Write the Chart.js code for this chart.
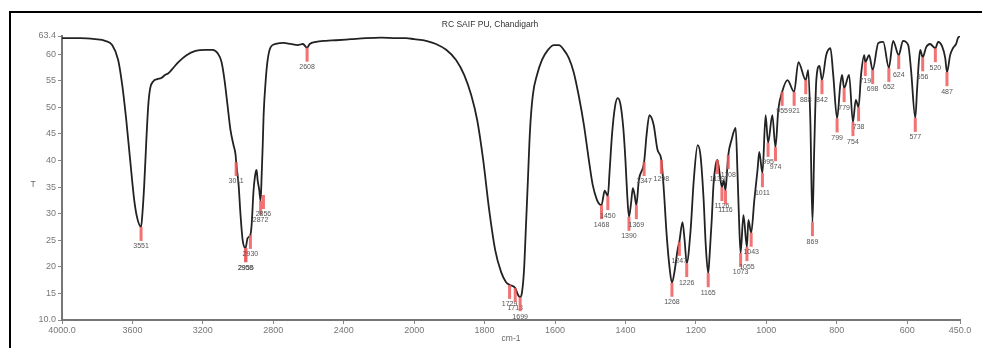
<!DOCTYPE html>
<html>
<head>
<meta charset="utf-8">
<script src="https://cdn.jsdelivr.net/npm/chart.js@4/dist/chart.umd.min.js"></script>
<style>
  html, body { margin: 0; padding: 0; background: #fff; }
  #wrap { width: 982px; height: 348px; position: relative; }
</style>
</head>
<body>
<div id="wrap"><canvas id="chart"></canvas></div>
<script>
// spectrum, wavenumber (cm-1) and transmittance
var wavenumbers = [4000,3897,3812,3755,3715,3681,3658,3635,3613,3590,3573,3551,3544,3533,3521,3510,3499,3481,3459,3436,3413,3396,3373,3339,3293,3242,3185,3145,3117,3094,3077,3060,3043,3026,3014,3011,2997,2986,2974,2958,2946,2930,2923,2912,2900,2895,2889,2880,2872,2866,2860,2855,2843,2832,2815,2786,2741,2701,2661,2632,2608,2593,2558,2501,2444,2359,2274,2188,2103,2046,2000,1966,1938,1909,1881,1858,1838,1821,1804,1787,1770,1753,1739,1729,1713,1705,1699,1694,1688,1683,1677,1671,1663,1651,1637,1620,1603,1589,1575,1561,1547,1533,1518,1504,1493,1481,1474,1468,1459,1450,1445,1438,1430,1422,1414,1406,1400,1395,1390,1384,1379,1374,1369,1362,1347,1340,1332,1320,1309,1298,1291,1283,1274,1268,1260,1252,1247,1238,1232,1226,1215,1206,1195,1187,1178,1172,1165,1161,1155,1150,1144,1139,1130,1126,1121,1116,1112,1108,1099,1087,1082,1077,1073,1065,1055,1051,1043,1034,1025,1020,1011,1002,995,983,974,966,955,940,921,909,888,881,875,869,864,858,849,842,830,818,810,799,790,785,779,765,754,746,738,731,722,719,708,698,682,668,652,640,624,612,597,589,577,572,567,563,556,546,535,520,512,501,492,487,478,470,461,456,450];
var transmittance = [63.0,63.0,62.8,62.5,61.7,58.9,54.2,47.6,40.1,32.6,29.2,27.5,29.7,35.4,43.8,50.4,53.6,54.9,55.3,55.5,56.1,56.4,57.2,58.5,59.8,60.6,60.8,60.8,60.2,58.5,55.1,50.4,45.7,42.9,41.0,39.7,35.4,29.7,25.0,23.5,25.4,26.0,27.9,34.4,37.8,38.2,36.3,34.5,32.4,37.3,42.9,48.5,55.1,58.9,61.3,61.9,62.1,61.9,61.7,61.9,61.2,61.9,62.3,62.5,62.6,62.8,63.0,63.1,63.0,63.0,62.8,62.5,61.9,60.8,58.9,56.1,52.3,47.6,40.1,30.7,23.2,19.0,17.1,16.6,16.0,14.7,14.3,15.1,19.4,26.9,36.3,45.7,52.3,56.1,58.9,60.8,61.7,61.7,60.8,59.3,56.6,52.3,46.7,40.1,35.4,32.6,31.8,31.6,34.3,33.3,38.0,45.0,50.0,51.7,50.5,46.0,40.0,33.5,29.4,32.0,34.8,33.5,31.6,36.3,39.7,44.8,48.5,46.7,42.0,40.1,34.4,26.0,19.4,17.0,19.4,23.2,24.7,28.4,25.0,20.7,26.9,36.3,42.9,41.0,32.6,24.1,18.8,22.2,28.8,35.4,39.1,40.1,36.3,35.0,36.3,34.4,37.5,41.0,43.8,46.1,38.0,28.0,22.6,29.7,23.7,28.8,26.4,32.6,38.2,41.6,37.6,48.5,43.3,48.5,42.5,49.5,52.9,55.1,52.9,58.5,55.1,57.0,47.6,28.4,42.0,55.1,57.8,55.1,59.8,61.1,56.1,47.9,54.2,56.1,53.6,56.1,47.2,51.4,50.0,56.1,59.8,58.5,59.8,57.0,62.1,62.3,57.4,62.5,59.8,62.5,61.7,57.0,48.0,53.2,58.5,60.8,59.4,61.3,61.9,61.1,62.3,61.5,59.3,56.6,59.8,61.1,61.9,63.0,63.4];

// peak picks (red markers)
var peakLabels = ['3551','3011','2958','2955','2930','2872','2856','2608','1729','1713','1699','1468','1450','1390','1369','1347','1298','1268','1247','1226','1165','1139','1126','1116','1108','1073','1055','1043','1011','995','974','955','921','888','869','842','799','779','754','738','719','698','652','624','577','556','520','487'];
var peakWn = [3551,3011,2958,2955,2930,2872,2856,2608,1729,1713,1699,1468,1450,1390,1369,1347,1298,1268,1247,1226,1165,1139,1126,1116,1108,1073,1055,1043,1011,995,974,955,921,888,869,842,799,779,754,738,719,698,652,624,577,556,520,487];
var peakT = [27.5,39.7,23.5,23.5,26.0,32.4,33.5,61.2,16.6,16.0,14.3,31.6,33.3,29.4,31.6,39.7,40.1,17.0,24.7,20.7,18.8,40.1,35.0,34.4,41.0,22.6,23.7,26.4,37.6,43.3,42.5,52.9,52.9,55.1,28.4,55.1,47.9,53.6,47.2,50.0,58.5,57.0,57.4,59.8,48.0,59.4,61.1,56.6];

var xTickValues = [4000,3600,3200,2800,2400,2000,1800,1600,1400,1200,1000,800,600,450];
var xTickLabels = ['4000.0','3600','3200','2800','2400','2000','1800','1600','1400','1200','1000','800','600','450.0'];
var yTickValues = [63.4,60,55,50,45,40,35,30,25,20,15,10];
var yTickLabels = ['63.4','60','55','50','45','40','35','30','25','20','15','10.0'];

// the instrument plot doubles the scale below 2000 cm-1
function toU(w){
    if (w >= 2000) return 4000 - w;
    return 2000 + 2*(2000 - w);
}

var points = [];
for (let i=0; i<wavenumbers.length; i++){
    points.push({x: toU(wavenumbers[i]), y: transmittance[i]});
}

var font = '"Liberation Sans", Arial, sans-serif';

var decor = {
    id: 'decor',
    afterDatasetsDraw(chart){
        let c = chart.ctx;
        let xs = chart.scales.x, ys = chart.scales.y;
        c.save();
        // peak markers
        c.font = '7px ' + font;
        c.textAlign = 'center';
        c.textBaseline = 'top';
        for (let i=0; i<peakWn.length; i++){
            let px = xs.getPixelForValue(toU(peakWn[i]));
            let py = ys.getPixelForValue(peakT[i]);
            c.fillStyle = 'rgba(238,90,90,0.85)';
            c.fillRect(px-1.5, py, 3, 14);
            c.fillStyle = '#555';
            c.fillText(peakLabels[i], px, py+16);
        }
        c.restore();
    },
    afterDraw(chart){
        let c = chart.ctx;
        c.save();
        // frame
        c.fillStyle = '#000';
        c.fillRect(9, 11, 982-9, 2);
        c.fillRect(9, 11, 2, 348-11);
        // title and axis names
        c.fillStyle = '#333';
        c.font = '8.5px ' + font;
        c.textAlign = 'center';
        c.textBaseline = 'middle';
        c.fillText('RC SAIF PU, Chandigarh', 490, 25);
        c.fillStyle = '#666';
        c.font = '8.5px ' + font;
        c.fillText('T', 33, 185);
        c.fillText('cm-1', 511, 339);
        c.restore();
    }
};

var ctx = document.getElementById('chart');

var chart = new Chart(ctx, {
    type: 'scatter',
    data: {
        datasets: [{
            data: points,
            showLine: true,
            borderColor: '#222',
            borderWidth: 1.8,
            pointRadius: 0,
            cubicInterpolationMode: 'monotone'
        }]
    },
    options: {
        responsive: true,
        maintainAspectRatio: false,
        animation: false,
        layout: {padding: {left: 0, right: 22, top: 36, bottom: 0}},
        plugins: {legend: {display: false}, tooltip: {enabled: false}},
        scales: {
            x: {
                type: 'linear',
                min: 0,
                max: toU(450),
                afterFit: function(s){ s.height = 28; },
                afterBuildTicks: function(s){
                    s.ticks = xTickValues.map(v => ({value: toU(v)}));
                },
                ticks: {
                    autoSkip: false,
                    maxRotation: 0,
                    padding: 1,
                    color: '#777',
                    font: {family: font, size: 9},
                    callback: function(v, i){ return xTickLabels[i]; }
                },
                grid: {drawOnChartArea: false, tickLength: 4, color: '#888'},
                border: {color: '#777', width: 2}
            },
            y: {
                min: 10,
                max: 63.4,
                afterFit: function(s){ s.width = 62; },
                afterBuildTicks: function(s){
                    s.ticks = yTickValues.map(v => ({value: v}));
                },
                ticks: {
                    padding: 2,
                    color: '#777',
                    font: {family: font, size: 9},
                    callback: function(v, i){ return yTickLabels[i]; }
                },
                grid: {drawOnChartArea: false, tickLength: 4, color: '#888'},
                border: {color: '#777', width: 2}
            }
        }
    },
    plugins: [decor]
});
</script>
</body>
</html>
